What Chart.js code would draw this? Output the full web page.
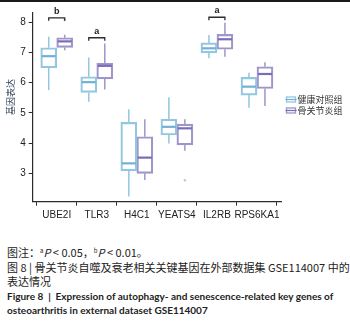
<!DOCTYPE html>
<html>
<head>
<meta charset="utf-8">
<script src="https://cdn.jsdelivr.net/npm/chart.js@4/dist/chart.umd.min.js"></script>
<style>
  html, body { margin: 0; padding: 0; background: #fff; }
  #wrap { position: relative; width: 350px; height: 328px; overflow: hidden; }
  #topline { position: absolute; left: 0; top: 0; width: 350px; height: 2px; background: #1a1a1a; }
  #chart { position: absolute; left: 0; top: 0; }
  #caption { position: absolute; left: 7px; top: 245px; width: 343px; color: #222; }
  .zh { font-family: "Noto Sans CJK SC", sans-serif; font-size: 11px; line-height: 14.5px; white-space: nowrap; }
  .en { font-family: Lato, "Liberation Sans", sans-serif; font-weight: bold; font-size: 10px; line-height: 14.5px; white-space: nowrap; }
  sup { font-size: 6px; vertical-align: 4px; line-height: 0; }
</style>
</head>
<body>
<div id="wrap">
  <canvas id="chart" width="350" height="244"></canvas>
  <div id="topline"></div>
  <div id="caption">
    <div class="zh">图注：<sup>a</sup><i>P</i> &lt; 0.05，<sup>b</sup><i>P</i> &lt; 0.01。</div>
    <div class="zh">图 8 | 骨关节炎自噬及衰老相关关键基因在外部数据集 GSE114007 中的</div>
    <div class="zh">表达情况</div>
    <div class="en">Figure 8 &nbsp;|&nbsp; Expression of autophagy- and senescence-related key genes of</div>
    <div class="en">osteoarthritis in external dataset GSE114007</div>
  </div>
</div>
<script>
// categories
const genes = ['UBE2I', 'TLR3', 'H4C1', 'YEATS4', 'IL2RB', 'RPS6KA1'];
const yTicks = [3, 4, 5, 6, 7, 8];

// healthy control group (box stats)
const ctrlMin = [5.76, 5.37, 2.23, 3.99, 6.81, 5.17];
const ctrlQ1  = [6.49, 5.68, 3.08, 4.27, 6.99, 5.59];
const ctrlMed = [6.88, 6.02, 3.33, 4.54, 7.14, 5.87];
const ctrlQ3  = [7.16, 6.20, 4.69, 4.79, 7.32, 6.18];
const ctrlMax = [7.52, 6.84, 5.12, 5.52, 7.58, 6.33];

// osteoarthritis group
const oaMin = [7.08, 5.78, 2.78, 3.75, 6.86, 5.23];
const oaQ1  = [7.17, 6.13, 3.00, 3.94, 7.11, 5.81];
const oaMed = [7.37, 6.56, 3.52, 4.49, 7.44, 6.29];
const oaQ3  = [7.49, 6.64, 4.21, 4.63, 7.60, 6.53];
const oaMax = [7.59, 7.30, 4.79, 4.79, 7.99, 6.68];
const oaOutliers = [[8.08], [], [], [2.77], [], []];
const ctrlOutliers = [[], [], [], [], [], []];

// significance brackets
const sigIndex = [0, 1, 4];
const sigText = ['b', 'a', 'a'];
const sigLevel = [8.15, 7.49, 8.17];

const colors = {
  ctrl: '#93c6e0',
  ctrlMed: '#74b0d6',
  oa: '#9f95cb',
  oaMed: '#7a6cb6',
  axis: '#2b2b2b',
  text: '#222222'
};

const groups = [
  { min: ctrlMin, med: ctrlMed, max: ctrlMax, out: ctrlOutliers, line: colors.ctrl, medColor: colors.ctrlMed },
  { min: oaMin, med: oaMed, max: oaMax, out: oaOutliers, line: colors.oa, medColor: colors.oaMed }
];

// whiskers, medians, outliers, brackets, legend, y title
const boxExtras = {
  id: 'boxExtras',
  beforeDatasetsDraw(chart) {
    const ctx = chart.ctx;
    const y = chart.scales.y;
    groups.forEach((g, d) => {
      const meta = chart.getDatasetMeta(d);
      ctx.save();
      ctx.strokeStyle = g.line;
      ctx.lineWidth = 1.5;
      meta.data.forEach((bar, i) => {
        const p = bar.getProps(['x', 'y', 'base']);
        const top = Math.min(p.y, p.base), bottom = Math.max(p.y, p.base);
        ctx.beginPath();
        ctx.moveTo(p.x, y.getPixelForValue(g.max[i]));
        ctx.lineTo(p.x, top);
        ctx.moveTo(p.x, bottom);
        ctx.lineTo(p.x, y.getPixelForValue(g.min[i]));
        ctx.stroke();
      });
      ctx.restore();
    });
  },
  afterDatasetsDraw(chart) {
    const ctx = chart.ctx;
    const y = chart.scales.y;
    groups.forEach((g, d) => {
      const meta = chart.getDatasetMeta(d);
      ctx.save();
      meta.data.forEach((bar, i) => {
        const p = bar.getProps(['x', 'width']);
        const half = p.width / 2 - 1;
        ctx.strokeStyle = g.medColor;
        ctx.lineWidth = 2.2;
        ctx.beginPath();
        ctx.moveTo(p.x - half, y.getPixelForValue(g.med[i]));
        ctx.lineTo(p.x + half, y.getPixelForValue(g.med[i]));
        ctx.stroke();
        ctx.fillStyle = g.line;
        ctx.globalAlpha = 0.6;
        g.out[i].forEach(v => {
          ctx.beginPath();
          ctx.arc(p.x, y.getPixelForValue(v), 1.2, 0, Math.PI * 2);
          ctx.fill();
        });
        ctx.globalAlpha = 1;
      });
      ctx.restore();
    });

    // brackets
    const m0 = chart.getDatasetMeta(0), m1 = chart.getDatasetMeta(1);
    ctx.save();
    ctx.strokeStyle = colors.axis;
    ctx.lineWidth = 1.3;
    ctx.fillStyle = colors.text;
    ctx.font = 'bold 9px "Liberation Sans", Arial, sans-serif';
    ctx.textAlign = 'center';
    ctx.textBaseline = 'bottom';
    sigIndex.forEach((idx, k) => {
      const x0 = m0.data[idx].x, x1 = m1.data[idx].x;
      const yy = y.getPixelForValue(sigLevel[k]);
      ctx.beginPath();
      ctx.moveTo(x0, yy + 3);
      ctx.lineTo(x0, yy);
      ctx.lineTo(x1, yy);
      ctx.lineTo(x1, yy + 3);
      ctx.stroke();
      ctx.fillText(sigText[k], (x0 + x1) / 2, yy - 2);
    });
    ctx.restore();

    // legend
    const legend = [
      { label: '健康对照组', c: colors.ctrl, m: colors.ctrlMed },
      { label: '骨关节炎组', c: colors.oa, m: colors.oaMed }
    ];
    ctx.save();
    ctx.font = '9px "Noto Sans CJK SC", sans-serif';
    ctx.textBaseline = 'middle';
    ctx.textAlign = 'left';
    legend.forEach((item, k) => {
      const cy = 99.5 + k * 11;
      ctx.strokeStyle = item.c;
      ctx.lineWidth = 1.3;
      ctx.strokeRect(286.5, cy - 2.5, 9, 5);
      ctx.strokeStyle = item.m;
      ctx.beginPath();
      ctx.moveTo(285.5, cy);
      ctx.lineTo(296.5, cy);
      ctx.stroke();
      ctx.fillStyle = '#333';
      ctx.fillText(item.label, 297.5, cy);
    });
    ctx.restore();

    // y axis title
    ctx.save();
    ctx.translate(10.5, 97);
    ctx.rotate(-Math.PI / 2);
    ctx.font = '9px "Noto Sans CJK SC", sans-serif';
    ctx.fillStyle = '#34475a';
    ctx.textAlign = 'center';
    ctx.textBaseline = 'middle';
    ctx.fillText('基因表达', 0, 0);
    ctx.restore();
  }
};

const ctrlData = genes.map((g, i) => ({ x: i, y: [ctrlQ1[i], ctrlQ3[i]] }));
const oaData = genes.map((g, i) => ({ x: i, y: [oaQ1[i], oaQ3[i]] }));

new Chart(document.getElementById('chart'), {
  type: 'bar',
  data: {
    datasets: [
      { label: '健康对照组', data: ctrlData, backgroundColor: 'rgba(255,255,255,0)', borderColor: colors.ctrl, borderWidth: 1.5, borderSkipped: false, barThickness: 16 },
      { label: '骨关节炎组', data: oaData, backgroundColor: 'rgba(255,255,255,0)', borderColor: colors.oa, borderWidth: 1.5, borderSkipped: false, barThickness: 16 }
    ]
  },
  options: {
    responsive: false,
    animation: false,
    layout: { padding: { top: 13, right: 69, left: 0, bottom: 0 } },
    plugins: { legend: { display: false }, tooltip: { enabled: false } },
    scales: {
      x: {
        type: 'linear',
        min: -0.6,
        max: 5.6,
        offset: false,
        afterBuildTicks: (scale) => { scale.ticks = genes.map((g, i) => ({ value: i })); },
        afterFit: (scale) => { scale.height = 42.3; },
        ticks: {
          callback: (v) => genes[v],
          color: colors.text,
          font: { family: '"Liberation Sans", Arial, sans-serif', size: 10 },
          padding: 4,
          maxRotation: 0,
          autoSkip: false
        },
        grid: { display: true, drawOnChartArea: false, drawTicks: true, tickLength: 4, color: colors.axis, lineWidth: 1 },
        border: { display: true, color: colors.axis, width: 1.2 }
      },
      y: {
        min: 2.06,
        max: 8.31,
        afterBuildTicks: (scale) => { scale.ticks = yTicks.map(v => ({ value: v })); },
        afterFit: (scale) => { scale.width = 32.7; },
        ticks: {
          color: colors.text,
          font: { family: '"Liberation Sans", Arial, sans-serif', size: 10 },
          padding: 3
        },
        grid: { display: true, drawOnChartArea: false, drawTicks: true, tickLength: 4, color: colors.axis, lineWidth: 1 },
        border: { display: true, color: colors.axis, width: 1.2 }
      }
    }
  },
  plugins: [boxExtras]
});
</script>
</body>
</html>
